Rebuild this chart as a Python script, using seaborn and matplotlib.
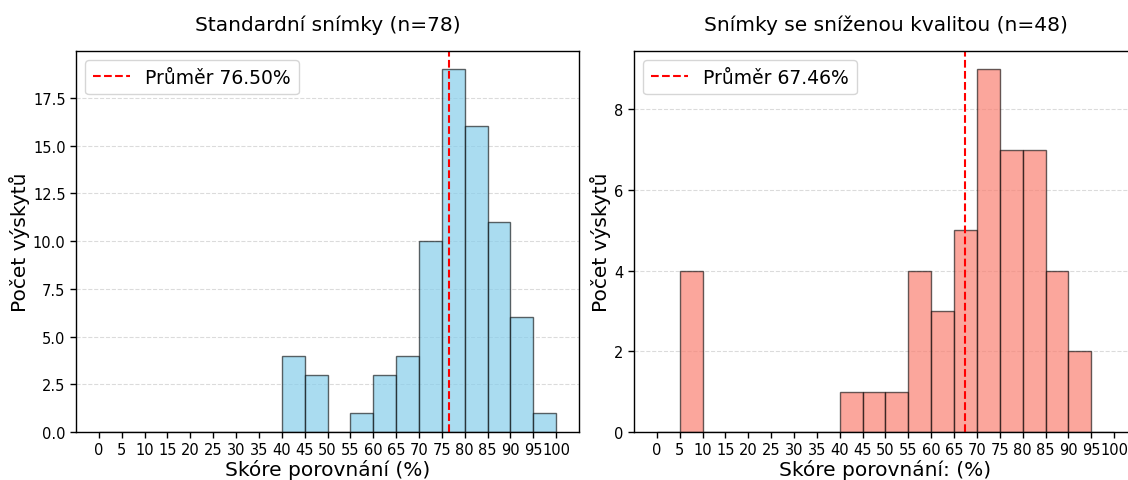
import numpy as np
import pandas as pd
import matplotlib
matplotlib.use("Agg")
import matplotlib.pyplot as plt
import seaborn as sns

# --- DATA ---
bin_edges = list(range(0, 105, 5))
bin_lefts = bin_edges[:-1]

counts_standard = [0, 0, 0, 0, 0, 0, 0, 0, 4, 3, 0, 1, 3, 4, 10, 19, 16, 11, 6, 1]
counts_reduced = [0, 4, 0, 0, 0, 0, 0, 0, 1, 1, 1, 4, 3, 5, 9, 7, 7, 4, 2, 0]

mean_standard = 76.50
mean_reduced = 67.46

titles = ["Standardní snímky (n=78)", "Snímky se sníženou kvalitou (n=48)"]
xlabels = ["Skóre porovnání (%)", "Skóre porovnání: (%)"]
ylabel = "Počet výskytů"
colors = ["skyblue", "salmon"]

# --- PLOT ---
sns.set_style("white")
plt.rcParams.update({
    'font.family': ['DejaVu Sans'],
    'text.color': 'black',
    'axes.labelcolor': 'black',
    'xtick.color': 'black',
    'ytick.color': 'black',
})

W, H = 1128, 481
fig, axes = plt.subplots(1, 2, figsize=(W / 100, H / 100), dpi=100)
# pozice os v pixelech (pravý graf přesahuje okraj obrázku jako v originálu)
lefts_px = [76, 634]
for ax, lx in zip(axes, lefts_px):
    ax.set_position([lx / W, (H - 433) / H, 503 / W, (433 - 52) / H])

for ax, counts, mean, title, xlabel, color in zip(
        axes, [counts_standard, counts_reduced], [mean_standard, mean_reduced],
        titles, xlabels, colors):
    df = pd.DataFrame({'score': np.array(bin_lefts) + 2.5, 'count': counts})
    sns.histplot(data=df, x='score', weights='count', bins=bin_edges,
                 color=color, edgecolor=(0, 0, 0, 0.6), alpha=0.7, linewidth=1, ax=ax)
    ax.axvline(mean, color='red', linestyle='--', linewidth=1.5,
               label=f"Průměr {mean:.2f}%")
    ax.set_title(title, fontsize=14.5, pad=15)
    ax.set_xlabel(xlabel, fontsize=14.5, labelpad=1)
    ax.set_ylabel(ylabel, fontsize=14.5, labelpad=2)
    ax.set_xticks(bin_edges)
    ax.tick_params(axis='both', labelsize=10.5, length=4, width=1, color='black', left=True, bottom=True)
    ax.grid(axis='y', linestyle='--', alpha=0.7)
    ax.set_axisbelow(True)
    for s in ax.spines.values():
        s.set_color('black')
        s.set_linewidth(1)
    ax.legend(loc='upper left', fontsize=13.5)

plt.savefig('out.png', dpi=100)
plt.close()
